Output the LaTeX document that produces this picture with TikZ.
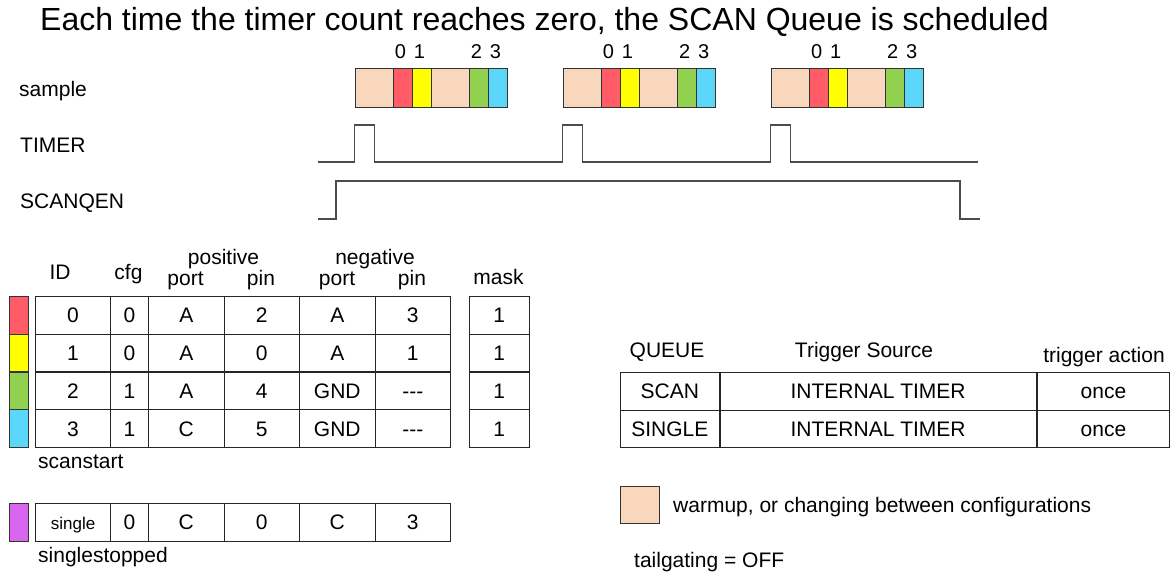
\documentclass[tikz,border=0pt]{standalone}
\usepackage{fontspec}
\setmainfont{Liberation Sans}
\usetikzlibrary{positioning}
\definecolor{warmup}{HTML}{F9D7BC}
\definecolor{cfgred}{HTML}{FF5C68}
\definecolor{cfgyellow}{HTML}{FFFF00}
\definecolor{cfggreen}{HTML}{92D050}
\definecolor{cfgblue}{HTML}{5BD7FA}
\definecolor{cfgpurple}{HTML}{D966EE}
\newcommand\nopin{-\kern0pt-\kern0pt-}
\tikzset{
    sample slot/.style={
        draw=black!80,line width=1.1pt,
        minimum height=39pt,inner sep=0pt,anchor=north west
    },
    table cell/.style={
        draw=black!85,line width=1.1pt,
        minimum height=37.7pt,inner sep=0pt,anchor=north west,
        text height=15pt,text depth=0pt,
        font=\fontsize{21}{24}\selectfont
    },
    color bar/.style={
        draw=black!80,line width=1.1pt,
        minimum width=19pt,minimum height=37.7pt,inner sep=0pt,anchor=north west
    },
    plain label/.style={inner sep=0pt,font=\fontsize{21}{24}\selectfont},
    wave/.style={draw=black!70,line width=1.3pt}
}

\begin{document}
\begin{tikzpicture}[x=1pt,y=-1pt]
\useasboundingbox (0,0) rectangle (1174,576);
\node[plain label,anchor=base west,font=\fontsize{32}{36}\selectfont] (title) at (40,30)
    {Each time the timer count reaches zero, the SCAN Queue is scheduled};

% signal names
\node[plain label,anchor=base west] (sample) at (19,96.5) {sample};
\node[plain label,anchor=base west] (timer) at (20,152.3) {TIMER};
\node[plain label,anchor=base west] (scanqen) at (20,208.3) {SCANQEN};

% sample strips
\foreach \k/\gx in {1/354.5,2/562.5,3/770.5} {
    \foreach \j/\dx/\w/\clr in {1/0/38/warmup,2/38/19/cfgred,3/57/19/cfgyellow,4/76/38/warmup,5/114/19/cfggreen,6/133/19/cfgblue}
        \node[sample slot,fill=\clr,minimum width=\w pt] (s\k-\j) at (\gx+\dx,68) {};
    \foreach \j/\n in {2/0,3/1,5/2,6/3}
        \node[plain label,font=\fontsize{20}{24}\selectfont,above=9pt of s\k-\j,xshift=-2pt] (n\k-\j) {\n};
}

% waveforms
\draw[wave] (318,162) foreach \gx in {354.5,562.5,770.5} {-- (\gx,162) -- (\gx,125) -- (\gx+20,125) -- (\gx+20,162)} -- (978,162);
\draw[wave] (318,219) -- (336,219) -- (336,181) -- (960,181) -- (960,219) -- (980,219);

% configuration table
\node[plain label,anchor=base] (h_id) at (60,279.5) {ID};
\node[plain label,anchor=base] (h_cfg) at (128.5,279.5) {cfg};
\node[plain label,anchor=base] (h_pos) at (223.5,264.5) {positive};
\node[plain label,anchor=base] (h_pport) at (185.5,285) {port};
\node[plain label,anchor=base] (h_ppin) at (261,285) {pin};
\node[plain label,anchor=base] (h_neg) at (375,264.5) {negative};
\node[plain label,anchor=base] (h_nport) at (337,285) {port};
\node[plain label,anchor=base] (h_npin) at (412,285) {pin};
\node[plain label,anchor=base] (h_mask) at (498.5,284) {mask};
\foreach \r/\clr/\entries in {0/cfgred/{0,0,A,2,A,3},1/cfgyellow/{1,0,A,0,A,1},2/cfggreen/{2,1,A,4,GND,\nopin},3/cfgblue/{3,1,C,5,GND,\nopin}} {
    \node[color bar,fill=\clr] (bar\r) at (9,296+37.7*\r) {};
    \foreach \txt [count=\c from 0] in \entries {
        \pgfmathsetmacro\cx{{35,110,148,223.5,299,374.5}[\c]}
        \pgfmathsetmacro\cw{{75,38,75.5,75.5,75.5,75.5}[\c]}
        \node[table cell,minimum width=\cw pt] (c\r-\c) at (\cx,296+37.7*\r) {\txt};
    }
    \node[table cell,minimum width=60.5pt] (m\r) at (468.5,296+37.7*\r) {1};
}
\node[plain label,anchor=base west] (scanstart) at (38,468) {scanstart};

\node[color bar,fill=cfgpurple] (bar_s) at (9,503) {};
\foreach \txt [count=\c from 0] in {{\fontsize{17}{20}\selectfont single},0,C,0,C,3} {
    \pgfmathsetmacro\cx{{35,110,148,223.5,299,374.5}[\c]}
    \pgfmathsetmacro\cw{{75,38,75.5,75.5,75.5,75.5}[\c]}
    \node[table cell,minimum width=\cw pt] (cs-\c) at (\cx,503) {\txt};
}
\node[plain label,anchor=base west] (singlestopped) at (38,562) {singlestopped};

% queue table
\node[plain label,anchor=base] (q_queue) at (667,357) {QUEUE};
\node[plain label,anchor=base] (q_src) at (864,357) {Trigger Source};
\node[plain label,anchor=base] (q_act) at (1104,362) {trigger action};
\foreach \r/\q in {0/SCAN,1/SINGLE} {
    \node[table cell,minimum width=98.5pt,minimum height=37.5pt] (q\r) at (620,372+37.5*\r) {\q};
    \node[table cell,minimum width=316pt,minimum height=37.5pt] (src\r) at (q\r.north east) {INTERNAL TIMER};
    \node[table cell,minimum width=132.5pt,minimum height=37.5pt] (act\r) at (src\r.north east) {once};
}

% legend
\node[sample slot,fill=warmup,minimum width=39pt,minimum height=37pt] (key) at (620,486) {};
\node[plain label,anchor=base west] (key_text) at (673,512) {warmup, or changing between configurations};
\node[plain label,anchor=base west] (tailgating) at (634,567) {tailgating = OFF};
\end{tikzpicture}
\end{document}
